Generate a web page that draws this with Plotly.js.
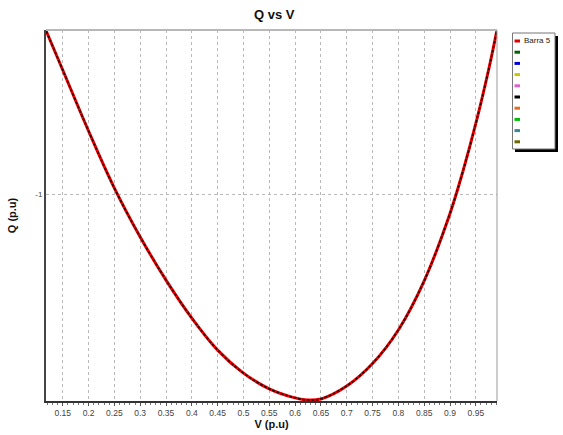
<!DOCTYPE html>
<html>
<head>
<meta charset="utf-8">
<script src="https://cdn.plot.ly/plotly-3.0.1.min.js"></script>
<style>html,body{margin:0;padding:0;background:#fff;}#chart{width:563px;height:435px;}</style>
</head>
<body>
<div id="chart"></div>
<script>
// Data
const voltage = [0.118, 0.15, 0.2, 0.25, 0.3, 0.35, 0.4, 0.45, 0.5, 0.55, 0.6, 0.625, 0.65, 0.7, 0.75, 0.8, 0.85, 0.9, 0.925, 0.95, 0.975, 0.991];
const reactive = [-0.368, -0.519, -0.755, -0.976, -1.165, -1.332, -1.479, -1.603, -1.692, -1.753, -1.788, -1.796, -1.792, -1.742, -1.655, -1.525, -1.335, -1.074, -0.911, -0.726, -0.516, -0.364];
const legendNames = ["Barra 5", "", "", "", "", "", "", "", "", ""];
const legendColors = ["#e00000", "#006400", "#0000e0", "#c8c800", "#e060d0", "#000000", "#e07020", "#00c000", "#3a8a9a", "#6a6a00"];
const yTickVals = [-1];
const yTickText = ["-1"];

const W = 563, H = 435;
const m = {l: 46, r: 66, t: 30, b: 34};

const traces = [
  {x: voltage, y: reactive, type: 'scatter', mode: 'lines', line: {color: '#ff0000', width: 3, shape: 'spline'}, hoverinfo: 'skip', showlegend: false},
  {x: voltage, y: reactive, type: 'scatter', mode: 'lines', line: {color: '#1a0000', width: 1.8, dash: '3px,1.5px', shape: 'spline'}, opacity: 0.85, hoverinfo: 'skip', showlegend: false}
];

// legend box (pixel -> paper helpers)
const px = v => (v - m.l) / (W - m.l - m.r);
const py = v => 1 - (v - m.t) / (H - m.t - m.b);
const shapes = [
  {type: 'line', xref: 'paper', yref: 'paper', x0: 0, x1: 1, y0: 1, y1: 1, line: {color: '#b8b8b8', width: 2}},
  {type: 'line', xref: 'paper', yref: 'paper', x0: 1, x1: 1, y0: 0, y1: 1, line: {color: '#9a9a9a', width: 1}},
  {type: 'rect', xref: 'paper', yref: 'paper', x0: px(515), x1: px(558), y0: py(152), y1: py(36), fillcolor: '#000', line: {width: 0}},
  {type: 'rect', xref: 'paper', yref: 'paper', x0: px(512.5), x1: px(555), y0: py(149), y1: py(33), fillcolor: '#fff', line: {color: '#777', width: 1}}
];
const annotations = [];
legendColors.forEach((c, i) => {
  const yy = 41 + i * 11.2;
  shapes.push({type: 'line', xref: 'paper', yref: 'paper', x0: px(514.5), x1: px(520), y0: py(yy), y1: py(yy), line: {color: c, width: 3}});
  if (legendNames[i]) {
    annotations.push({xref: 'paper', yref: 'paper', x: px(521.5), y: py(yy), xanchor: 'left', yanchor: 'middle', showarrow: false, text: legendNames[i], font: {size: 8, color: '#222', family: 'Liberation Sans, Arial, sans-serif'}});
  }
});

const layout = {
  width: W, height: H,
  margin: m,
  paper_bgcolor: '#fff', plot_bgcolor: '#fff',
  font: {family: 'Liberation Sans, Arial, sans-serif', color: '#444', size: 8.5},
  title: {text: '<b>Q vs V</b>', x: 0.487, xanchor: 'center', y: 0.966, yanchor: 'middle', font: {size: 13, color: '#111', family: 'Liberation Sans, Arial, sans-serif'}},
  showlegend: false,
  xaxis: {
    range: [0.1176, 0.991], tickmode: 'linear', tick0: 0.15, dtick: 0.05,
    showgrid: true, gridcolor: '#b8b8b8', griddash: 'dot', gridwidth: 1,
    showline: true, linecolor: '#333', linewidth: 2,
    ticks: 'outside', ticklen: 3, tickcolor: '#555',
    minor: {dtick: 0.01, ticks: 'outside', ticklen: 2, tickcolor: '#777', showgrid: false},
    zeroline: false,
    tickfont: {size: 8.5, color: '#444'},
    title: {text: '<b>V (p.u)</b>', standoff: 2, font: {size: 11, color: '#111'}}
  },
  yaxis: {
    range: [-1.8, -0.3642], tickmode: 'array', tickvals: yTickVals, ticktext: yTickText,
    showgrid: true, gridcolor: '#b8b8b8', griddash: 'dot', gridwidth: 1,
    showline: true, linecolor: '#444', linewidth: 2,
    ticks: '', zeroline: false,
    tickfont: {size: 8, color: '#444'},
    title: {text: '<b>Q (p.u)</b>', standoff: 16, font: {size: 11, color: '#111'}}
  },
  shapes: shapes,
  annotations: annotations
};

Plotly.newPlot('chart', traces, layout, {staticPlot: true, displayModeBar: false});
</script>
</body>
</html>
